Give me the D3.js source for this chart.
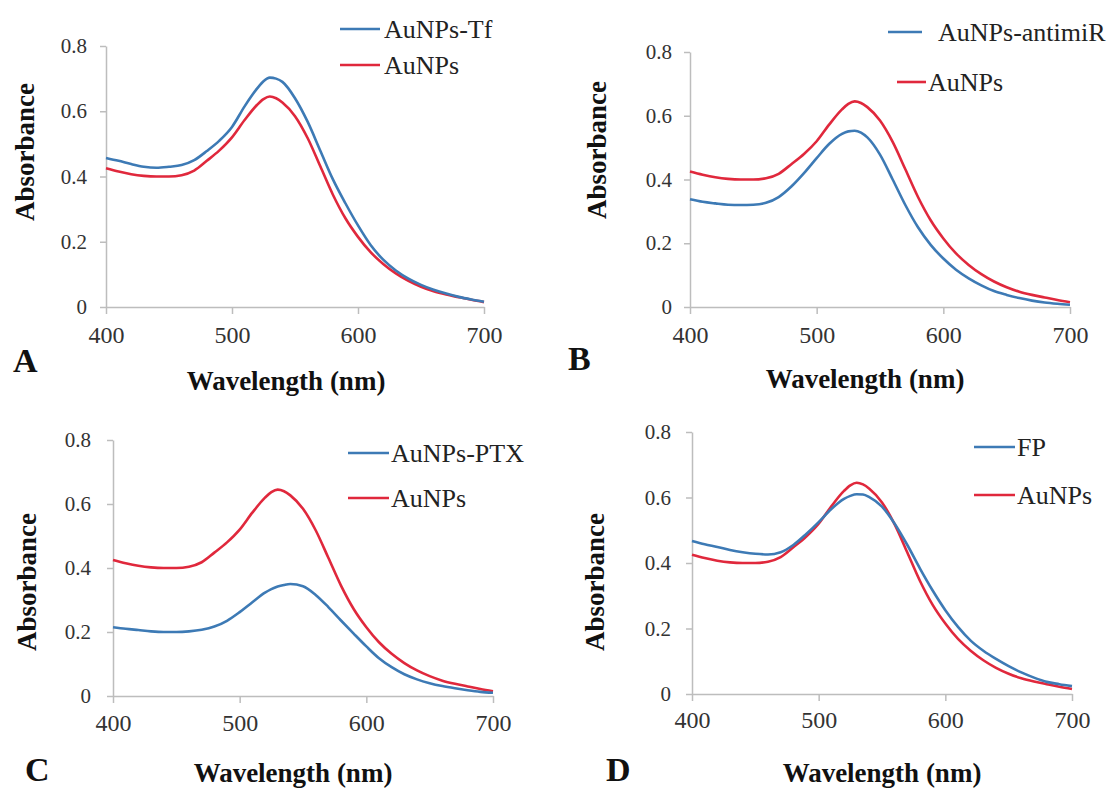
<!DOCTYPE html>
<html>
<head>
<meta charset="utf-8">
<script src="https://cdn.jsdelivr.net/npm/d3@7"></script>
<style>
  body { margin: 0; background: #fff; }
  text { font-family: "Liberation Serif", "Times New Roman", serif; }
  .tick line, .domain { stroke: #bdbdbd; stroke-width: 1.5; }
  .axis-title { font-weight: bold; font-size: 27px; fill: #111; }
  .panel-letter { font-weight: bold; font-size: 34px; fill: #111; }
  .legend-text { font-size: 26px; fill: #222; }
</style>
</head>
<body>
<div id="chart"></div>
<script>
// wavelength grid (nm)
const wavelengths = [400, 410, 420, 430, 440, 450, 460, 470, 480, 490, 500, 510, 520, 525, 530, 535, 540, 550,
  560, 570, 580, 590, 600, 610, 620, 630, 640, 650, 660, 670, 680, 690, 700];

// bare gold nanoparticles (same reference curve in every panel)
const auNPs = [0.425, 0.415, 0.407, 0.402, 0.400, 0.400, 0.404, 0.418, 0.448, 0.480, 0.520, 0.573, 0.620, 0.637, 0.645, 0.640, 0.627, 0.585,
  0.518, 0.432, 0.345, 0.272, 0.215, 0.168, 0.132, 0.103, 0.080, 0.062, 0.048, 0.038, 0.030, 0.022, 0.015];

const auNPsTf = [0.457, 0.448, 0.438, 0.430, 0.427, 0.430, 0.435, 0.450, 0.478, 0.510, 0.552, 0.615, 0.670, 0.692, 0.703, 0.700, 0.690, 0.640,
  0.568, 0.480, 0.392, 0.318, 0.250, 0.190, 0.145, 0.112, 0.087, 0.068, 0.053, 0.041, 0.031, 0.023, 0.016];

const auNPsAntimiR = [0.338, 0.330, 0.325, 0.321, 0.320, 0.321, 0.327, 0.345, 0.378, 0.420, 0.467, 0.512, 0.543, 0.551, 0.553, 0.547, 0.532, 0.478,
  0.400, 0.320, 0.250, 0.195, 0.152, 0.117, 0.090, 0.068, 0.050, 0.038, 0.028, 0.020, 0.014, 0.010, 0.007];

const auNPsPTX = [0.215, 0.210, 0.206, 0.202, 0.200, 0.200, 0.202, 0.207, 0.217, 0.235, 0.262, 0.293, 0.323, 0.334, 0.342, 0.347, 0.350, 0.343,
  0.316, 0.278, 0.236, 0.195, 0.155, 0.118, 0.090, 0.068, 0.052, 0.040, 0.031, 0.024, 0.018, 0.013, 0.010];

const fp = [0.467, 0.457, 0.449, 0.440, 0.433, 0.428, 0.426, 0.433, 0.455, 0.488, 0.525, 0.565, 0.596, 0.605, 0.610, 0.609, 0.601, 0.572,
  0.520, 0.455, 0.383, 0.316, 0.256, 0.205, 0.163, 0.132, 0.107, 0.085, 0.066, 0.050, 0.037, 0.030, 0.024];

const xTicks = [400, 500, 600, 700];
const yTicks = [0, 0.2, 0.4, 0.6, 0.8];
const panelLetters = ['A', 'B', 'C', 'D'];
const seriesNames = [['AuNPs-Tf', 'AuNPs'], ['AuNPs-antimiR', 'AuNPs'], ['AuNPs-PTX', 'AuNPs'], ['FP', 'AuNPs']];
const seriesValues = [[auNPsTf, auNPs], [auNPsAntimiR, auNPs], [auNPsPTX, auNPs], [fp, auNPs]];

const BLUE = '#3d7ab5';
const RED = '#e0283c';
const SERIF = '"Liberation Serif", "Times New Roman", serif';

const svg = d3.select('#chart').append('svg')
  .attr('width', 1118)
  .attr('height', 789);

// layout of each panel, in pixels
const layouts = [
  { left: 106, right: 484, bottom: 307, top: 46, yPad: 13, xPad: 12,
    letter: [13, 372], xTitle: [286, 390], yTitle: [34, 152],
    legend: [{ x1: 340, x2: 380, y: 29, tx: 384 }, { x1: 340, x2: 380, y: 65, tx: 384 }] },
  { left: 690, right: 1070, bottom: 307, top: 52, yPad: 12, xPad: 12,
    letter: [568, 370], xTitle: [865, 388], yTitle: [606, 150],
    legend: [{ x1: 888, x2: 922, y: 32, tx: 938 }, { x1: 897, x2: 926, y: 82, tx: 928 }] },
  { left: 113, right: 493, bottom: 696, top: 440, yPad: 16, xPad: 11,
    letter: [25, 781], xTitle: [293, 782], yTitle: [36, 582],
    legend: [{ x1: 348, x2: 389, y: 453, tx: 391 }, { x1: 348, x2: 389, y: 498, tx: 391 }] },
  { left: 692, right: 1072, bottom: 694, top: 432, yPad: 15, xPad: 10,
    letter: [606, 781], xTitle: [882, 782], yTitle: [604, 582],
    legend: [{ x1: 974, x2: 1015, y: 447, tx: 1017 }, { x1: 974, x2: 1015, y: 495, tx: 1017 }] }
];

layouts.forEach((cfg, i) => {
  const g = svg.append('g');

  const x = d3.scaleLinear().domain([400, 700]).range([cfg.left, cfg.right]);
  const y = d3.scaleLinear().domain([0, 0.8]).range([cfg.bottom, cfg.top]);

  const xAxis = g.append('g')
    .attr('transform', `translate(0,${cfg.bottom})`)
    .call(d3.axisBottom(x).tickValues(xTicks).tickSize(7).tickSizeOuter(0).tickPadding(cfg.xPad).tickFormat(d3.format('d')));
  xAxis.selectAll('text')
    .style('font-family', SERIF).style('font-size', '24px').style('fill', '#333');

  const yAxis = g.append('g')
    .attr('transform', `translate(${cfg.left},0)`)
    .call(d3.axisLeft(y).tickValues(yTicks).tickSize(6).tickSizeOuter(0).tickPadding(cfg.yPad).tickFormat(d => d === 0 ? '0' : d3.format('.1f')(d)));
  yAxis.selectAll('text')
    .style('font-family', SERIF).style('font-size', '21px').style('fill', '#333');

  const line = d3.line()
    .x((d, k) => x(wavelengths[k]))
    .y(d => y(d))
    .curve(d3.curveMonotoneX);

  // draw the AuNPs reference first, the coated sample over it
  const colors = [BLUE, RED];
  [1, 0].forEach(s => {
    g.append('path')
      .datum(seriesValues[i][s])
      .attr('fill', 'none')
      .attr('stroke', colors[s])
      .attr('stroke-width', 2.6)
      .attr('d', line);
  });

  // legend
  cfg.legend.forEach((item, s) => {
    g.append('line')
      .attr('x1', item.x1).attr('x2', item.x2)
      .attr('y1', item.y).attr('y2', item.y)
      .attr('stroke', colors[s]).attr('stroke-width', 2.6);
    g.append('text')
      .attr('class', 'legend-text')
      .attr('x', item.tx).attr('y', item.y)
      .attr('dy', '0.35em')
      .text(seriesNames[i][s]);
  });

  g.append('text')
    .attr('class', 'axis-title')
    .attr('x', cfg.xTitle[0]).attr('y', cfg.xTitle[1])
    .attr('text-anchor', 'middle')
    .text('Wavelength (nm)');

  g.append('text')
    .attr('class', 'axis-title')
    .attr('transform', `translate(${cfg.yTitle[0]},${cfg.yTitle[1]}) rotate(-90)`)
    .attr('text-anchor', 'middle')
    .text('Absorbance');

  g.append('text')
    .attr('class', 'panel-letter')
    .attr('x', cfg.letter[0]).attr('y', cfg.letter[1])
    .text(panelLetters[i]);
});
</script>
</body>
</html>
